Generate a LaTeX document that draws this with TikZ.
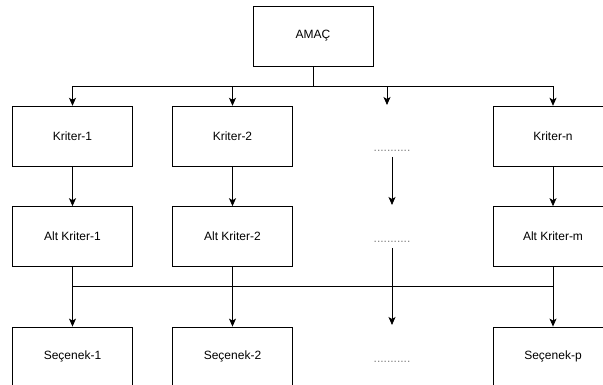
\documentclass[tikz,border=0pt]{standalone}
\usepackage{fontspec}
\setmainfont{Liberation Sans}
\usetikzlibrary{arrows.meta,positioning}
\tikzset{box/.style={draw, minimum width=120pt, minimum height=60pt, inner sep=0pt, font=\fontsize{12}{14}\selectfont}}
\tikzset{arr/.style={draw, -{Stealth[length=8pt,width=7pt,inset=2pt]}, line width=0.8pt}}
\tikzset{dots/.style={text=gray, inner sep=0pt, font=\fontsize{12}{14}\selectfont}}

\begin{document}
\begin{tikzpicture}[x=1pt,y=-1pt]
        \useasboundingbox (0,0) rectangle (603,385);
        \node[box] (A) at (313,36) {AMAÇ};
        % kriterler
        \node[box] (K1) at (72.5,136) {Kriter-1};
        \node[box] (K2) at (232.5,136) {Kriter-2};
        \node[box] (Kn) at (553,136) {Kriter-n};
        \node[box, below=40pt of K1] (AK1) {Alt Kriter-1};
        \node[box, below=40pt of K2] (AK2) {Alt Kriter-2};
        \node[box, below=40pt of Kn] (AKm) {Alt Kriter-m};
        % secenekler
        \node[box, below=60pt of AK1] (S1) {Seçenek-1};
        \node[box, below=60pt of AK2] (S2) {Seçenek-2};
        \node[box, below=60pt of AKm] (Sp) {Seçenek-p};
        \node[dots] (D1) at (392,151) {...........};
        \node[dots] (D2) at (392,242) {...........};
        \node[dots] (D3) at (392,362) {...........};
        \coordinate (M1) at (387,105);
        \coordinate (M2) at (392,205);
        \coordinate (M3) at (392,325);

        \draw[arr] (A.south) -- ++(0,20) -| (K1.north);
        \draw[arr] (A.south) -- ++(0,20) -| (K2.north);
        \draw[arr] (A.south) -- ++(0,20) -| (M1);
        \draw[arr] (A.south) -- ++(0,20) -| (Kn.north);
        \draw[arr] (K1) -- (AK1);
        \draw[arr] (K2) -- (AK2);
        \draw[arr] (Kn) -- (AKm);
        \draw[arr, shorten <=5pt] (D1) -- (M2);
        \draw[arr, shorten <=5pt] (D2) -- (M3);
        \draw[arr] (AK1.south) -- ++(0,20) -| (Sp.north);
        \draw[arr] (AKm.south) -- ++(0,20) -| (S1.north);
        \draw[arr] (AK2) -- (S2);
    \end{tikzpicture}
\end{document}
